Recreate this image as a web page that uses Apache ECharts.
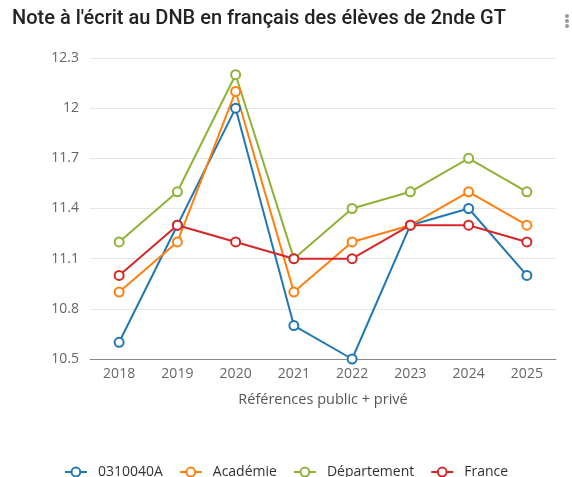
<!DOCTYPE html>
<html>
<head>
<meta charset="utf-8">
<script src="https://cdn.jsdelivr.net/npm/echarts@6/dist/echarts.min.js"></script>
<style>
  html, body { margin: 0; padding: 0; background: #fff; }
  #chart { width: 572px; height: 477px; }
</style>
</head>
<body>
<div id="chart"></div>
<script>
const years = ["2018", "2019", "2020", "2021", "2022", "2023", "2024", "2025"];
const etab = [10.6, 11.3, 12.0, 10.7, 10.5, 11.3, 11.4, 11.0];
const academie = [10.9, 11.2, 12.1, 10.9, 11.2, 11.3, 11.5, 11.3];
const departement = [11.2, 11.5, 12.2, 11.1, 11.4, 11.5, 11.7, 11.5];
const france = [11.0, 11.3, 11.2, 11.1, 11.1, 11.3, 11.3, 11.2];

const names = ["0310040A", "Académie", "Département", "France"];
const colors = ["#1f77b4", "#ff7f0e", "#8fb236", "#d62728"];
const values = [etab, academie, departement, france];

const chart = echarts.init(document.getElementById("chart"));

const series = values.map((data, i) => ({
  name: names[i],
  type: "line",
  data: data,
  symbol: "emptyCircle",
  symbolSize: 9,
  color: colors[i],
  lineStyle: { width: 2 },
  itemStyle: { borderWidth: 2 }
}));

chart.setOption({
  textStyle: { fontFamily: "Open Sans" },
  title: {
    text: "Note à l'écrit au DNB en français des élèves de 2nde GT",
    left: 7,
    top: 4,
    textStyle: { fontFamily: "Roboto", fontSize: 20, fontWeight: 500, color: "#222" }
  },
  graphic: [{
    type: "group",
    left: 565,
    top: 14,
    children: [0, 5, 10].map((y) => ({
      type: "circle",
      shape: { cx: 2, cy: y + 2, r: 2 },
      style: { fill: "#999" }
    }))
  }],
  legend: {
    top: 460,
    left: "center",
    itemWidth: 22,
    itemHeight: 11,
    itemGap: 16,
    textStyle: { fontSize: 14, color: "#333", padding: [0, 0, 0, 6] },
    data: names
  },
  grid: { left: 90, right: 16, top: 58, bottom: 118 },
  xAxis: {
    type: "category",
    data: years,
    name: "Références public + privé",
    nameLocation: "middle",
    nameGap: 33,
    nameTextStyle: { fontSize: 14.5, color: "#555" },
    axisLine: { lineStyle: { color: "#888" } },
    axisTick: { lineStyle: { color: "#888" } },
    axisLabel: { fontSize: 14, color: "#666", margin: 8 }
  },
  yAxis: {
    type: "value",
    min: 10.5,
    max: 12.3,
    interval: 0.3,
    axisLabel: { fontSize: 14, color: "#666", margin: 11 },
    splitLine: { lineStyle: { color: "#e6e6e6" } }
  },
  series: series
});
</script>
</body>
</html>
